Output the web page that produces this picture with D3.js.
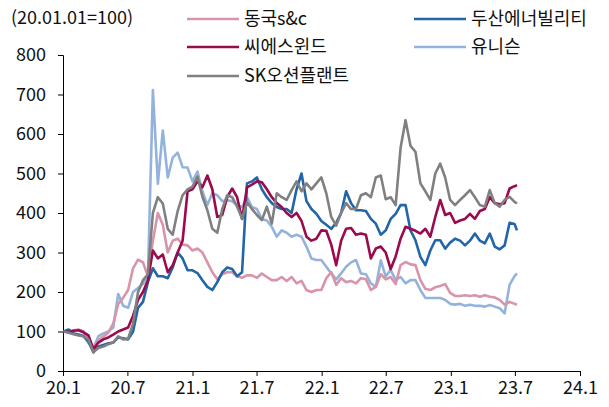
<!DOCTYPE html>
<html><head><meta charset="utf-8">
<script src="https://cdn.jsdelivr.net/npm/d3@7"></script>
<style>body{margin:0;background:#fff;}svg{display:block;font-family:"Noto Sans CJK KR","Noto Sans",sans-serif;}</style>
</head><body><svg id="c" width="609" height="407"></svg>
<script>
const dates = ["2020-01-03","2020-01-17","2020-01-31","2020-02-14","2020-02-28","2020-03-13","2020-03-27","2020-04-10","2020-04-24","2020-05-08","2020-05-22","2020-06-05","2020-06-19","2020-07-03","2020-07-17","2020-07-31","2020-08-14","2020-08-28","2020-09-11","2020-09-25","2020-10-09","2020-10-23","2020-11-06","2020-11-20","2020-12-04","2020-12-18",
"2021-01-01","2021-01-15","2021-01-29","2021-02-12","2021-02-26","2021-03-12","2021-03-26","2021-04-09","2021-04-23","2021-05-07","2021-05-21","2021-06-04","2021-06-18","2021-07-02","2021-07-16","2021-07-30","2021-08-13","2021-08-27","2021-09-10","2021-09-24","2021-10-08","2021-10-22","2021-11-05","2021-11-19","2021-12-03","2021-12-17","2021-12-31",
"2022-01-14","2022-01-28","2022-02-11","2022-02-25","2022-03-11","2022-03-25","2022-04-08","2022-04-22","2022-05-06","2022-05-20","2022-06-03","2022-06-17","2022-07-01","2022-07-15","2022-07-29","2022-08-12","2022-08-26","2022-09-09","2022-09-23","2022-10-07","2022-10-21","2022-11-04","2022-11-18","2022-12-02","2022-12-16","2022-12-30",
"2023-01-13","2023-01-27","2023-02-10","2023-02-24","2023-03-10","2023-03-24","2023-04-07","2023-04-21","2023-05-05","2023-05-19","2023-06-02","2023-06-16","2023-06-30","2023-07-07"];

const dongkuk = [100,100,103,105,100,75,58,78,87,97,120,170,185,205,260,282,275,240,330,400,370,300,330,335,320,318,305,310,300,275,250,232,245,250,250,240,236,242,242,236,247,238,230,230,238,228,238,222,228,205,200,205,205,235,250,218,235,225,228,222,235,232,205,213,245,232,238,220,268,276,270,268,230,208,205,212,215,220,198,190,190,192,190,192,188,192,188,186,180,168,175,170,168];
const cswind = [100,98,102,103,98,90,55,72,80,85,92,100,105,110,140,180,200,230,305,285,295,250,268,300,330,455,460,480,465,495,460,390,395,440,462,440,385,465,472,480,478,460,440,425,415,400,390,400,380,340,330,335,356,355,320,268,330,360,362,345,348,345,285,310,315,300,258,290,335,365,360,355,348,360,340,390,433,395,400,375,381,385,398,385,405,410,440,425,422,425,462,468,470];
const doosan = [100,105,95,92,88,75,47,62,66,70,72,85,83,80,100,160,175,225,260,240,240,235,262,300,285,255,255,248,230,213,205,225,250,262,258,240,250,475,480,490,460,440,425,415,410,410,400,460,500,430,410,398,380,370,360,375,400,455,425,407,407,405,385,373,345,356,385,398,420,420,356,331,289,268,305,331,331,310,325,335,330,318,330,348,330,323,348,315,308,318,375,372,356];
const unison = [100,102,95,93,90,70,58,88,95,100,110,195,165,160,200,210,220,240,711,474,609,490,540,553,516,515,480,505,455,420,450,445,430,432,430,420,415,440,415,410,385,381,365,340,356,350,340,345,340,315,285,281,281,264,247,232,247,264,275,281,247,245,222,213,280,239,256,230,238,222,230,230,205,185,185,185,185,180,170,168,170,165,168,165,165,163,167,163,159,146,218,240,247];
const skocean = [100,97,93,90,88,80,48,58,62,68,72,88,80,82,120,200,230,245,400,440,424,360,345,405,445,460,467,492,441,407,360,350,410,445,440,416,386,427,410,395,382,416,373,450,440,433,458,480,455,475,460,475,490,450,390,368,400,425,410,410,445,450,440,490,495,435,440,420,565,635,570,555,475,455,433,500,525,490,433,420,433,445,458,440,420,416,458,425,416,433,441,428,424];

const yTicks = [0,100,200,300,400,500,600,700,800];
const xTickLabels = ["20.1","20.7","21.1","21.7","22.1","22.7","23.1","23.7","24.1"];
const xTickDates = ["2020-01-01","2020-07-01","2021-01-01","2021-07-01","2022-01-01","2022-07-01","2023-01-01","2023-07-01","2024-01-01"];

const series = [
  {name:"유니슨", values:unison, color:"#94b3dc"},
  {name:"동국s&c", values:dongkuk, color:"#d894a9"},
  {name:"두산에너빌리티", values:doosan, color:"#2266a8"},
  {name:"씨에스윈드", values:cswind, color:"#9c0a4e"},
  {name:"SK오션플랜트", values:skocean, color:"#808080"}
];
const legendItems = [
  {name:"동국s&c", col:0,row:0},{name:"두산에너빌리티", col:1,row:0},
  {name:"씨에스윈드", col:0,row:1},{name:"유니슨", col:1,row:1},
  {name:"SK오션플랜트", col:0,row:2}
];

const parse = d3.timeParse("%Y-%m-%d");
const svg = d3.select("#c");
const x = d3.scaleTime().domain([parse("2020-01-01"), parse("2024-01-01")]).range([63, 580]);
const y = d3.scaleLinear().domain([0, 800]).range([371, 55]);

const numFont = "'Noto Sans CJK KR','Noto Sans',sans-serif";
const yAxis = d3.axisLeft(y).tickValues(yTicks).tickSize(5).tickPadding(12);
const gy = svg.append("g").attr("transform","translate(63,0)").call(yAxis);
gy.select(".domain").attr("stroke","#000");
gy.selectAll(".tick line").attr("stroke","#000");
gy.selectAll("text").attr("font-size",18).attr("fill","#111").attr("font-family",numFont);

const xAxis = d3.axisBottom(x).tickValues(xTickDates.map(parse)).tickFormat((d,i)=>xTickLabels[i]).tickSize(5).tickPadding(5);
const gx = svg.append("g").attr("transform","translate(0,371)").call(xAxis);
gx.select(".domain").attr("stroke","#000");
gx.selectAll(".tick line").attr("stroke","#000");
gx.selectAll("text").attr("font-size",18).attr("fill","#111").attr("font-family",numFont);

const line = d3.line().x((d,i)=>x(parse(dates[i]))).y(d=>y(d)).curve(d3.curveLinear);
series.forEach(s=>{
  svg.append("path").datum(s.values).attr("d",line).attr("fill","none")
    .attr("stroke",s.color).attr("stroke-width",2.6).attr("stroke-linejoin","round");
});

svg.append("text").attr("x",11).attr("y",18).attr("dy","0.36em").attr("font-size",18).attr("fill","#111")
  .attr("font-family",numFont).text("(20.01.01=100)");

const colX = [187, 414], rowY = [19, 47, 76];
const colorOf = n => series.find(s=>s.name===n).color;
legendItems.forEach(it=>{
  const lx = colX[it.col], ly = rowY[it.row];
  svg.append("line").attr("x1",lx).attr("x2",lx+52).attr("y1",ly).attr("y2",ly)
    .attr("stroke",colorOf(it.name)).attr("stroke-width",2.6);
  svg.append("text").attr("x",lx+57).attr("y",ly).attr("dy","0.36em")
    .attr("font-size",18).attr("fill","#111").text(it.name);
});
</script></body></html>
